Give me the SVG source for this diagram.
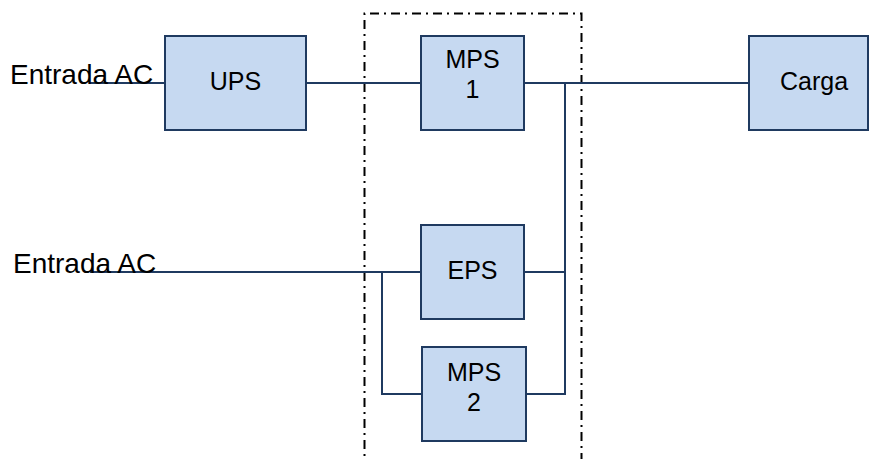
<svg xmlns="http://www.w3.org/2000/svg" width="870" height="459" viewBox="0 0 870 459">
<style>
.box{fill:#c6d9f1;stroke:#1f3a60;stroke-width:2}
.lbl{font-family:"Liberation Sans",Arial,sans-serif;font-size:25px;fill:#000;text-anchor:middle}
.in{font-family:"Liberation Sans",Arial,sans-serif;font-size:28px;fill:#000}
.wire{fill:none;stroke:#1f3a60;stroke-width:2}
.frame{fill:none;stroke:#000;stroke-width:2;stroke-dasharray:9,5,2,5}
</style>
<rect width="870" height="459" fill="#fff"/>
<path class="frame" d="M364.5,470 V13.5 H581.5 V470"/>
<g id="connectors">
<path class="wire" d="M90,83 H165"/>
<path class="wire" d="M306,83 H421"/>
<path class="wire" d="M524,83 H749"/>
<path class="wire" d="M565,83 V394 H526"/>
<path class="wire" d="M524,272 H565"/>
<path class="wire" d="M90,272 H421"/>
<path class="wire" d="M382,272 V394 H422"/>
</g>
<g id="in1"><text class="in" x="10" y="84">Entrada AC</text></g>
<g id="in2"><text class="in" x="13" y="273">Entrada AC</text></g>
<g id="ups"><rect class="box" x="165" y="36" width="141" height="94"/><text class="lbl" x="235.5" y="90">UPS</text></g>
<g id="mps1"><rect class="box" x="421" y="36" width="103" height="94"/><text class="lbl" x="472.5" y="68">MPS</text><text class="lbl" x="472.5" y="98">1</text></g>
<g id="carga"><rect class="box" x="749" y="36" width="119" height="94"/><text class="lbl" x="814" y="90">Carga</text></g>
<g id="eps"><rect class="box" x="421" y="225" width="103" height="94"/><text class="lbl" x="472.5" y="279">EPS</text></g>
<g id="mps2"><rect class="box" x="422" y="347" width="104" height="94"/><text class="lbl" x="474" y="381">MPS</text><text class="lbl" x="474" y="411">2</text></g>
</svg>
